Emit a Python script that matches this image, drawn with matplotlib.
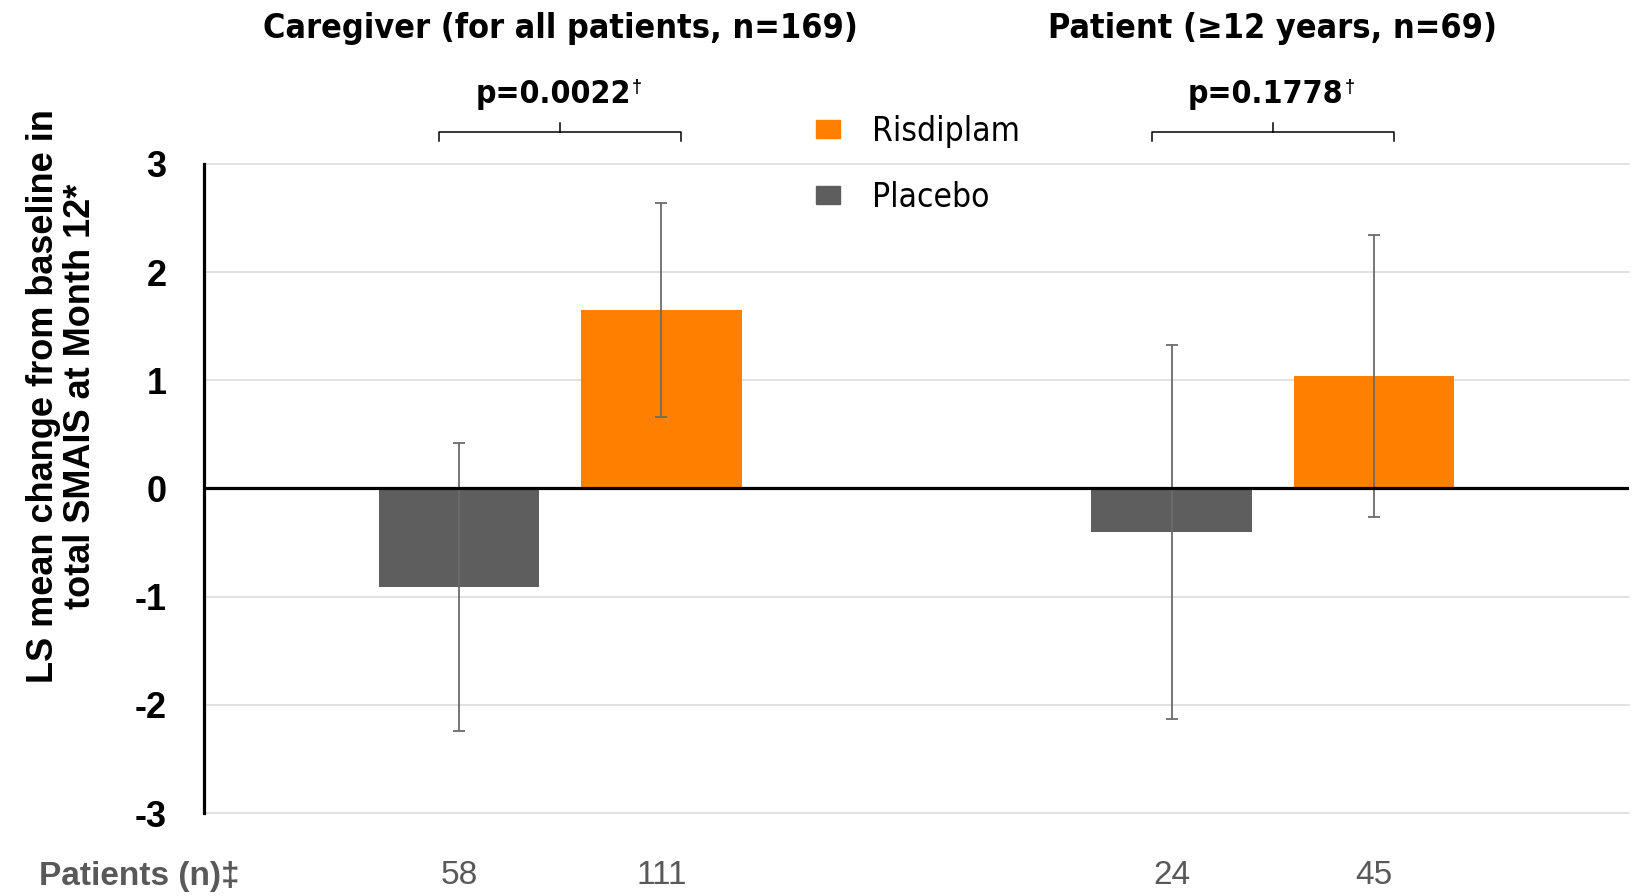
"""Risdiplam vs placebo: LS mean change in total SMAIS at Month 12."""

import matplotlib.patches as mpatches
import matplotlib.pyplot as plt
import numpy as np

plt.rcParams["axes.unicode_minus"] = False

# Data
groups = ["Caregiver (for all patients, n=169)", "Patient (\u226512 years, n=69)"]
p_values = ["p=0.0022", "p=0.1778"]
placebo_mean = [-0.91, -0.40]
placebo_ci = [1.33, 1.73]
risdiplam_mean = [1.65, 1.04]
risdiplam_ci = [0.99, 1.30]
placebo_n = [58, 24]
risdiplam_n = [111, 45]

ORANGE = "#FF8000"
GREY = "#5E5E5E"
ERR = "#6B6B6B"
NARROW = ["DejaVu Sans"]
ARIAL = ["Liberation Sans", "DejaVu Sans"]


def bracket(ax, xc, half, y, drop=0.09, rise=0.08):
    xs = [xc - half, xc - half, xc + half, xc + half]
    ys = [y - drop, y, y, y - drop]
    ax.plot(xs, ys, color="black", lw=1.1, clip_on=False, solid_joinstyle="round")
    ax.plot([xc, xc], [y, y + rise], color="black", lw=1.1, clip_on=False)


def main():
    fig = plt.figure(figsize=(16.34, 8.96), dpi=100)
    ax = fig.add_axes([0.1248, 0.0926, 0.997 - 0.1248, 0.817 - 0.0926])

    x = np.arange(len(groups))
    offset = 0.142
    width = 0.225
    x_pl = x - offset
    x_ri = x + offset

    ax.bar(x_pl, placebo_mean, width, color=GREY, zorder=2, label="Placebo")
    ax.bar(x_ri, risdiplam_mean, width, color=ORANGE, zorder=2, label="Risdiplam")
    ax.errorbar(x_pl, placebo_mean, yerr=placebo_ci, fmt="none", ecolor=ERR,
                elinewidth=1.3, capsize=4.3, capthick=1.3, zorder=3)
    ax.errorbar(x_ri, risdiplam_mean, yerr=risdiplam_ci, fmt="none", ecolor=ERR,
                elinewidth=1.3, capsize=4.3, capthick=1.3, zorder=3)

    ax.axhline(0, color="black", lw=2.3, zorder=4)

    ax.set_xlim(-0.5, 1.5)
    ax.set_ylim(-3, 3)
    ax.set_yticks(range(-3, 4))
    for yv in range(-3, 4):
        if yv != 0:
            ax.axhline(yv, color="#D9D9D9", lw=1.1, zorder=0, clip_on=False)

    for side in ["top", "right", "bottom"]:
        ax.spines[side].set_visible(False)
    ax.spines["left"].set_linewidth(2.3)
    ax.spines["left"].set_zorder(5)

    ax.tick_params(axis="y", length=0, pad=27, labelsize=26)
    for lbl in ax.get_yticklabels():
        lbl.set_fontweight("bold")
        lbl.set_family(ARIAL)

    # Patient counts under each bar
    ax.set_xticks(np.concatenate([x_pl, x_ri]),
                  [str(n) for n in placebo_n + risdiplam_n])
    ax.tick_params(axis="x", length=0, pad=34, labelsize=24, labelcolor="#595959")
    for lbl in ax.get_xticklabels():
        lbl.set_family(ARIAL)
    fig.text(39 / 1634, 1 - 876 / 896, "Patients (n)\u2021", fontsize=24,
             fontweight="bold", color="#595959", family=ARIAL, va="center", ha="left")

    fig.text(62 / 1634, 1 - 396 / 896,
             "LS mean change from baseline in\ntotal SMAIS at Month 12*",
             rotation=90, ha="center", va="center", fontsize=26,
             fontweight="bold", family=ARIAL, linespacing=1.05)

    # Group headings, p-values and brackets
    for xi, title, p in zip(x, groups, p_values):
        ax.text(xi, 4.25, title, ha="center", va="center", fontsize=24.5,
                fontweight="bold", family=NARROW, fontstretch="condensed",
                clip_on=False)
        t = ax.text(xi - 0.01, 3.64, p, ha="center", va="center", fontsize=23,
                    fontweight="bold", family=NARROW, fontstretch="condensed",
                    clip_on=False)
        ax.annotate("\u2020", xy=(1, 1), xycoords=t, xytext=(1, 0),
                    textcoords="offset points", ha="left", va="top",
                    fontsize=13, fontweight="bold", family=ARIAL)
        bracket(ax, xi, 0.17, 3.30)

    handles = [mpatches.Patch(color=ORANGE, label="Risdiplam"),
               mpatches.Patch(color=GREY, label="Placebo")]
    fig.legend(handles=handles, loc="upper left",
               bbox_to_anchor=(816 / 1634, 1 - 115 / 896), frameon=False,
               prop={"family": NARROW, "size": 24, "stretch": "condensed"},
               handlelength=0.72, handleheight=0.48, handletextpad=0.95,
               labelspacing=0.98, borderpad=0, borderaxespad=0)

    fig.savefig("out.png", dpi=100, facecolor="white")


if __name__ == "__main__":
    main()
